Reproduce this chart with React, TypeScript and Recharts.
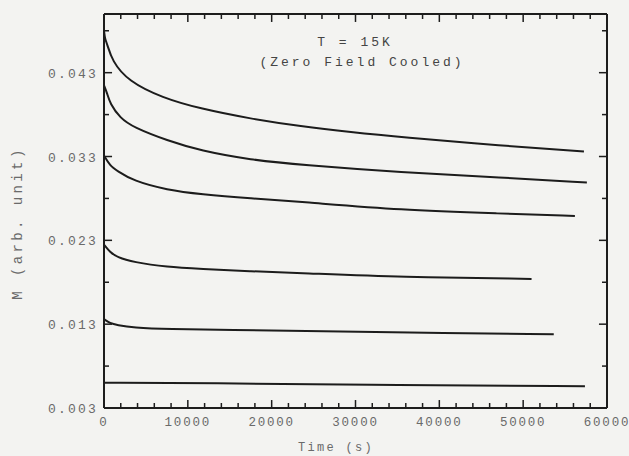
import React from "react";
import { Line, LineChart, ReferenceLine, XAxis, YAxis } from "recharts";

// Relaxation curves, T = 15K, zero field cooled.

const T1 = [0, 120, 360, 960, 2870, 6950, 11500, 17500, 23470, 29450, 35450, 47400, 57250];
const V1 = [0.048, 0.047, 0.0465, 0.0444, 0.042, 0.04, 0.0387, 0.0375, 0.0366, 0.0359, 0.0353, 0.0343, 0.0336];

const T2 = [0, 360, 720, 1920, 3470, 7550, 11500, 17500, 23470, 35450, 47400, 57600];
const V2 = [0.0415, 0.0406, 0.0393, 0.0376, 0.0365, 0.0349, 0.0337, 0.0326, 0.032, 0.0311, 0.0305, 0.0299];

const T3 = [0, 720, 1560, 3470, 7550, 11500, 17500, 23470, 35450, 47400, 56170];
const V3 = [0.0331, 0.0319, 0.0313, 0.0301, 0.029, 0.0285, 0.028, 0.0276, 0.0266, 0.0262, 0.0259];

const T4 = [0, 720, 1560, 3470, 7550, 11500, 17500, 23470, 35450, 51000];
const V4 = [0.0225, 0.0216, 0.021, 0.0204, 0.0198, 0.0196, 0.0193, 0.0191, 0.0186, 0.0184];

const T5 = [0, 720, 1560, 3470, 7550, 15450, 23470, 35450, 53650];
const V5 = [0.0136, 0.0131, 0.0129, 0.0126, 0.0124, 0.0123, 0.0122, 0.012, 0.0118];

const T6 = [0, 11500, 35450, 57370];
const V6 = [0.006, 0.006, 0.0057, 0.0056];

const X_MIN = 0;
const X_MAX = 60000;
const Y_MIN = 0.003;
const Y_MAX = 0.05;

const X_MAJOR = [0, 10000, 20000, 30000, 40000, 50000, 60000];
const X_MINOR = [
  2000, 4000, 6000, 8000, 12000, 14000, 16000, 18000, 22000, 24000, 26000, 28000,
  32000, 34000, 36000, 38000, 42000, 44000, 46000, 48000, 52000, 54000, 56000, 58000,
];
const Y_MAJOR = [0.003, 0.013, 0.023, 0.033, 0.043];
const Y_MINOR = [0.008, 0.018, 0.028, 0.038, 0.048];

const SERIES = [
  [T1, V1],
  [T2, V2],
  [T3, V3],
  [T4, V4],
  [T5, V5],
  [T6, V6],
].map(([ts, vs]) => ts.map((t, i) => ({ t, v: vs[i] })));

const X_TICKS = [...X_MAJOR, ...X_MINOR];
const Y_TICKS = [...Y_MAJOR, ...Y_MINOR];

const INK = "#1c1c1c";
const TEXT = "#6a6a6a";
const FONT = "'Liberation Mono', 'DejaVu Sans Mono', monospace";

const isMajorX = (v: number) => X_MAJOR.includes(v);
const isMajorY = (v: number) => Y_MAJOR.some((m) => Math.abs(m - v) < 1e-9);

// tick mark lengths in data units (about 8px major, 5px minor)
const XLEN = (t: number) => (isMajorX(t) ? 960 : 600);
const YLEN = (v: number) => (isMajorY(v) ? 0.00095 : 0.0006);

function BottomLabel({ x, y, payload }: any) {
  if (!isMajorX(payload.value)) return <g />;
  return (
    <text x={x} y={y + 18} textAnchor="middle" fontFamily={FONT} fontSize={12.5} letterSpacing={1.8} fill={TEXT}>
      {payload.value}
    </text>
  );
}

function LeftLabel({ x, y, payload }: any) {
  if (!isMajorY(payload.value)) return <g />;
  return (
    <text x={x - 6} y={y + 5} textAnchor="end" fontFamily={FONT} fontSize={13} letterSpacing={2.2} fill={TEXT}>
      {payload.value.toFixed(3)}
    </text>
  );
}

export default function App() {
  return (
    <div style={{ position: "absolute", left: 0, top: 0, width: 629, height: 456, background: "#f3f3f1" }}>
      <LineChart width={629} height={456} margin={{ top: 14, right: 22, left: 0, bottom: 0 }}>
        <XAxis
          dataKey="t"
          type="number"
          domain={[X_MIN, X_MAX]}
          ticks={X_TICKS}
          interval={0}
          height={48}
          tickSize={0}
          tickMargin={0}
          tickLine={false}
          tick={BottomLabel}
          axisLine={{ stroke: INK, strokeWidth: 2 }}
        />
        <YAxis
          type="number"
          domain={[Y_MIN, Y_MAX]}
          ticks={Y_TICKS}
          interval={0}
          width={104}
          tickSize={0}
          tickMargin={0}
          tickLine={false}
          tick={LeftLabel}
          axisLine={{ stroke: INK, strokeWidth: 2 }}
        />
        {/* top and right edges of the frame */}
        <ReferenceLine y={Y_MAX} stroke={INK} strokeWidth={2} />
        <ReferenceLine x={X_MAX} stroke={INK} strokeWidth={2} />
        {/* inward tick marks on all four sides */}
        {X_TICKS.map((t) => (
          <ReferenceLine
            key={`tt${t}`}
            segment={[
              { x: t, y: Y_MAX },
              { x: t, y: Y_MAX - YLEN(isMajorX(t) ? Y_MAJOR[0] : Y_MINOR[0]) },
            ]}
            stroke={INK}
            strokeWidth={1.5}
          />
        ))}
        {X_TICKS.map((t) => (
          <ReferenceLine
            key={`tb${t}`}
            segment={[
              { x: t, y: Y_MIN },
              { x: t, y: Y_MIN + YLEN(isMajorX(t) ? Y_MAJOR[0] : Y_MINOR[0]) },
            ]}
            stroke={INK}
            strokeWidth={1.5}
          />
        ))}
        {Y_TICKS.map((v) => (
          <ReferenceLine
            key={`tr${v}`}
            segment={[
              { x: X_MAX, y: v },
              { x: X_MAX - XLEN(isMajorY(v) ? X_MAJOR[0] : X_MINOR[0]), y: v },
            ]}
            stroke={INK}
            strokeWidth={1.5}
          />
        ))}
        {Y_TICKS.map((v) => (
          <ReferenceLine
            key={`tl${v}`}
            segment={[
              { x: X_MIN, y: v },
              { x: X_MIN + XLEN(isMajorY(v) ? X_MAJOR[0] : X_MINOR[0]), y: v },
            ]}
            stroke={INK}
            strokeWidth={1.5}
          />
        ))}
        {SERIES.map((data, i) => (
          <Line
            key={i}
            data={data}
            dataKey="v"
            type="basis"
            stroke={INK}
            strokeWidth={2}
            dot={false}
            activeDot={false}
            isAnimationActive={false}
          />
        ))}
        <text x={355} y={46} textAnchor="middle" fontFamily={FONT} fontSize={13} letterSpacing={3} fill="#444">
          T = 15K
        </text>
        <text x={362} y={66} textAnchor="middle" fontFamily={FONT} fontSize={13} letterSpacing={3} fill="#444">
          (Zero Field Cooled)
        </text>
        <text
          x={22}
          y={223}
          transform="rotate(-90 22 223)"
          textAnchor="middle"
          fontFamily={FONT}
          fontSize={14}
          letterSpacing={3.4}
          fill={TEXT}
        >
          M (arb. unit)
        </text>
        <text x={336} y={451} textAnchor="middle" fontFamily={FONT} fontSize={12} letterSpacing={2.3} fill={TEXT}>
          Time (s)
        </text>
      </LineChart>
    </div>
  );
}
